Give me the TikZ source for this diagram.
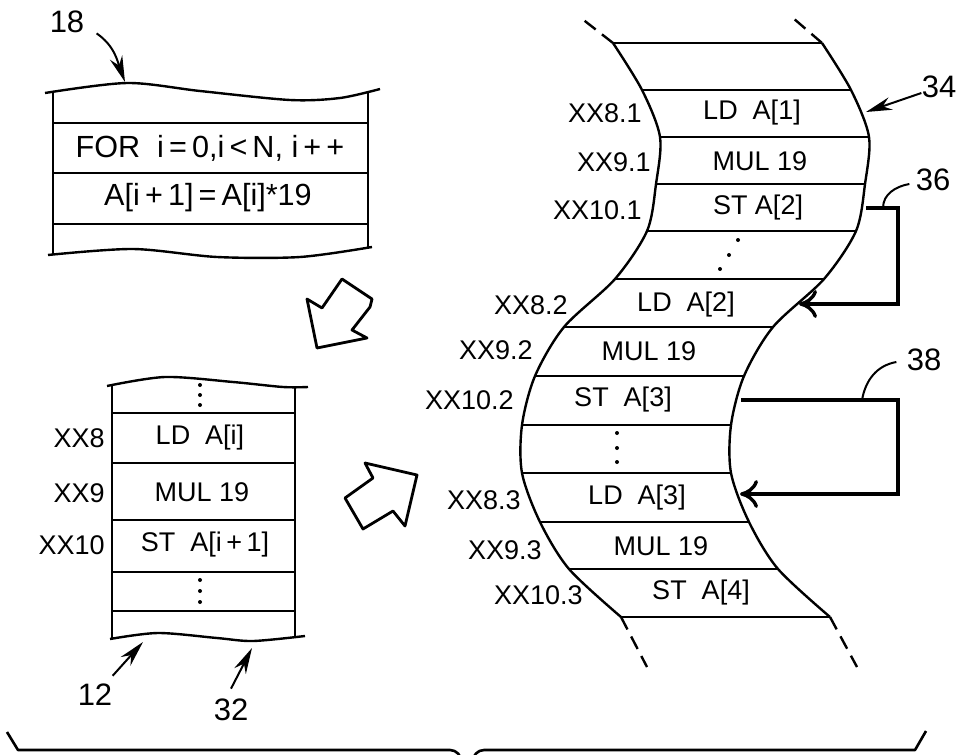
\documentclass[tikz,border=0pt]{standalone}
\usepackage{fontspec}
\setmainfont{Liberation Sans}
\usetikzlibrary{arrows.meta, positioning, calc}

\begin{document}
\begin{tikzpicture}[
    x=0.5pt, y=-0.5pt,
    tape/.style={line width=1.2pt, line join=round},
    fade/.style={line width=1.2pt, dash pattern=on 7pt off 4pt},
    code/.style={font=\fontsize{15.3}{17}\selectfont, inner sep=0pt},
    instr/.style={font=\fontsize{13.5}{15}\selectfont, inner sep=0pt},
    addr/.style={font=\fontsize{13.5}{15}\selectfont, inner sep=0pt, anchor=east},
    refnum/.style={font=\fontsize{15.5}{17}\selectfont, inner sep=0pt},
    lead/.style={line width=1pt, -{Stealth[length=13pt, width=6.5pt]}},
    bracket/.style={line width=1.7pt, -{Computer Modern Rightarrow[length=9pt, width=14pt]}},
    bigarrow/.style={line width=1.4pt, line join=round}
]
    \useasboundingbox (0,0) rectangle (961,754);
    \clip (0,0) rectangle (961,754);

    % Source loop (18)
    \draw[tape] plot[smooth] coordinates {(45,93) (127,83) (200,91) (290,100) (340,98) (380,89)};
    \draw[tape] plot[smooth] coordinates {(48,255) (133,249) (217,257) (300,257) (372,247)};
    \draw[tape] (53,92) -- (53,255);
    \draw[tape] (368,93) -- (368,249);
    \foreach \y in {123,173,224} \draw[tape] (53,\y) -- (368,\y);
    \node[code] (forln) at (210,148) {FOR\ \ i\,=\,0,i\,<\,N, i\,+\,+};
    \node[code] (assign) at (208,198) {A[i\,+\,1]\,=\,A[i]*19};

    % Compiled code (12, 32)
    \draw[tape] plot[smooth] coordinates {(107,386) (165,377) (233,382) (283,387) (308,387)};
    \draw[tape] plot[smooth] coordinates {(110,639) (158,633) (217,638) (253,641) (305,636)};
    \draw[tape] (112,386) -- (112,638);
    \draw[tape] (295,387) -- (295,638);
    \foreach \y in {413,463,520,572,611} \draw[tape] (112,\y) -- (295,\y);
    \foreach \y in {385,395,405,580,591,602} \fill (200,\y) circle (1pt);
    \node[instr] (ldi) at (200,438) {LD\ \ A[i]};
    \node[instr] (muli) at (202,492) {MUL 19};
    \node[instr] (sti) at (205,545) {ST\ \ A[i\,+\,1]};
    \node[addr] (a8) at (105,438) {XX8};
    \node[addr] (a9) at (105,493) {XX9};
    \node[addr] (a10) at (105,545) {XX10};

    % Unrolled strip (34)
    \draw[tape] plot[smooth] coordinates {(613,43) (642,90) (660,137) (656,184) (647,231) (615,279) (564,327) (535,376) (522,425) (522,473) (540,522) (569,569) (621,617)};
    \draw[tape] plot[smooth] coordinates {(822,43) (851,90) (869,137) (865,184) (856,231) (824,279) (773,327) (744,376) (731,425) (731,473) (749,522) (778,569) (830,617)};
    \foreach \y/\x in {43/613, 90/642, 137/660, 184/656, 231/647, 279/615, 327/564, 376/535, 425/522, 473/522, 522/540, 569/569, 617/621}
        \draw[tape] (\x,\y) -- ({\x+209},\y);
    \draw[fade] (613,43) -- (581,18);
    \draw[fade] (822,43) -- (793,18);
    \draw[fade] (621,617) -- (647,667);
    \draw[fade] (830,617) -- (857,667);
    \foreach \x/\y in {738/240, 729/255, 720/269, 617/433, 617/448, 617/462} \fill (\x,\y) circle (1pt);

    \node[instr] (ld1) at (752,113) {LD\ \ A[1]};
    \node[instr] (mul1) at (760,161) {MUL 19};
    \node[instr] (st1) at (758,208) {ST A[2]};
    \node[instr] (ld2) at (686,305) {LD\ \ A[2]};
    \node[instr] (mul2) at (649,351) {MUL 19};
    \node[instr] (st2) at (623,400) {ST\ \ A[3]};
    \node[instr] (ld3) at (637,498) {LD\ \ A[3]};
    \node[instr] (mul3) at (661,546) {MUL 19};
    \node[instr] (st3) at (701,593) {ST\ \ A[4]};

    \node[addr] (a81) at (642,113) {XX8.1};
    \node[addr] (a91) at (651,162) {XX9.1};
    \node[addr] (a101) at (642,210) {XX10.1};
    \node[addr] (a82) at (568,305) {XX8.2};
    \node[addr] (a92) at (533,350) {XX9.2};
    \node[addr] (a102) at (514,400) {XX10.2};
    \node[addr] (a83) at (521,500) {XX8.3};
    \node[addr] (a93) at (542,550) {XX9.3};
    \node[addr] (a103) at (583,595) {XX10.3};

    % Transform arrows
    \draw[bigarrow] (342,279) -- (372,299) -- (370,307) -- (352,330) -- (367,338) -- (317,348) -- (307,299) -- (322,308) -- cycle;
    \draw[bigarrow] (365,463) -- (417,475) -- (405,526) -- (393,511) -- (363,529) -- (345,498) -- (373,478) -- cycle;

    % Dependence brackets (36, 38)
    \coordinate (out36) at (866,208);
    \coordinate (in36) at (799,304);
    \coordinate (top36) at (883,208);
    \coordinate (out38) at (741,400);
    \coordinate (in38) at (740,494);
    \coordinate (top38) at (862,400);
    \draw[bracket] (out36) -- (898,208) |- (in36);
    \draw[bracket] (out38) -- (898,400) |- (in38);

    % Reference numerals
    \node[refnum] (n18) at (67,22) {18};
    \node[refnum] (n12) at (95,695) {12};
    \node[refnum] (n32) at (231,710) {32};
    \node[refnum] (n34) at (939,87) {34};
    \node[refnum] (n36) at (933,180) {36};
    \node[refnum] (n38) at (924,360) {38};
    \coordinate (tip18) at (125,82);
    \coordinate (tip12) at (143,642);
    \coordinate (tip32) at (252,648);
    \coordinate (tip34) at (866,112);

    \draw[lead] ([xshift=6pt]n18.south east) to[out=-35, in=110] (tip18);
    \draw[lead] ([yshift=4pt]n12.north east) -- (tip12);
    \draw[lead] ([yshift=5pt]n32.north) -- (tip32);
    \draw[lead] ([yshift=-3pt]n34.west) -- (tip34);
    \draw[line width=1pt] ([xshift=-3pt, yshift=-2pt]n36.west) to[out=190, in=90] (top36);
    \draw[line width=1pt] ([xshift=-5pt, yshift=-1pt]n38.west) to[out=190, in=80] (top38);

    % Bottom brace
    \draw[tape, line width=1.3pt] (7,732) -- (18,750) -- (450,750) to[out=0, in=100] (462,762);
    \draw[tape, line width=1.3pt] (472,762) to[out=80, in=180] (484,750) -- (915,750) -- (926,731);

\end{tikzpicture}
\end{document}
